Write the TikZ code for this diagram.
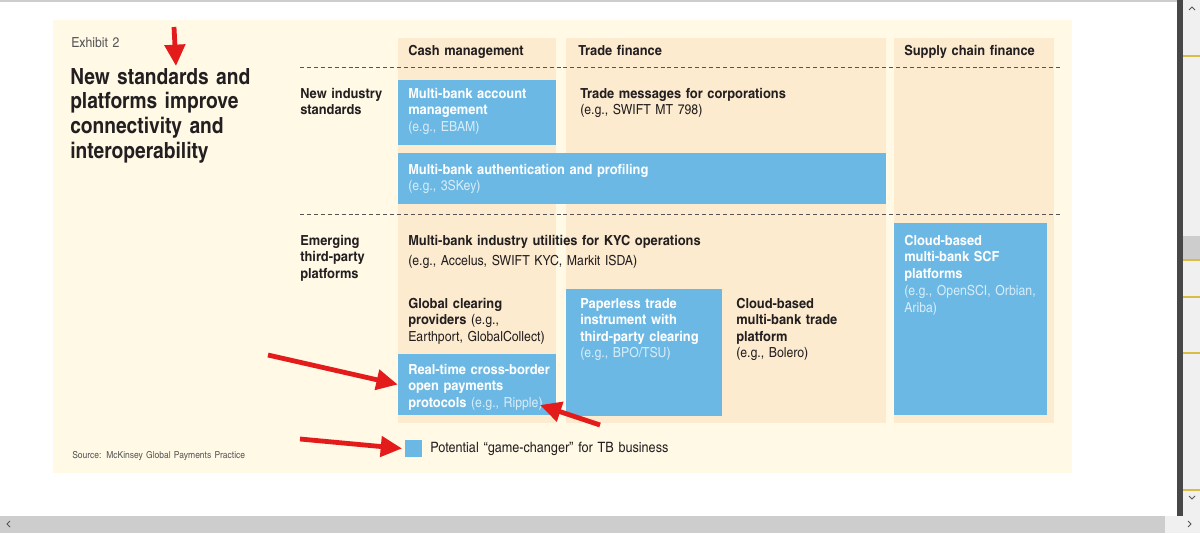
\documentclass[tikz,border=0pt]{standalone}
\usepackage{fontspec}
\setmainfont{texgyreheroscn}[Extension=.otf, UprightFont=*-regular, BoldFont=*-bold,
  ItalicFont=*-italic, BoldItalicFont=*-bolditalic,
  UprightFeatures={FakeStretch=1.08}, BoldFeatures={FakeStretch=1.13}]
\newfontfamily\titlefam{texgyreheroscn}[Extension=.otf, UprightFont=*-regular,
  BoldFont=*-bold, BoldFeatures={FakeStretch=1.05}]
\usetikzlibrary{arrows.meta, positioning, fit}
\definecolor{Cream}{HTML}{FFF9E6}
\definecolor{Peach}{HTML}{FDEBCF}
\definecolor{SkyBlue}{HTML}{6CB8E4}
\definecolor{PaleBlue}{HTML}{D6ECF8}
\definecolor{InkDark}{HTML}{231F20}
\definecolor{ExGray}{HTML}{555555}
\definecolor{MarkRed}{HTML}{E31B1B}
\definecolor{BarLight}{HTML}{F0F0F0}
\definecolor{BarGray}{HTML}{CDCDCD}
\definecolor{BarDark}{HTML}{474747}
\definecolor{BarMark}{HTML}{D9BE45}
\newcommand\boxfont{\fontsize{10.4}{12.4}\selectfont}
\newcommand\headfont{\titlefam\fontsize{16.7}{18.6}\selectfont\bfseries}

\begin{document}
\begin{tikzpicture}[x=0.75pt, y=-0.75pt,
  colbg/.style={fill=Peach, inner sep=0pt},
  gcbox/.style={fill=SkyBlue, inner sep=0pt},
  txt/.style={anchor=base west, align=left, inner sep=0pt, text width=260pt,
    font=\boxfont, text=InkDark},
  wtxt/.style={txt, text=white},
  sepline/.style={ExGray, line width=0.6pt, dash pattern=on 3pt off 2.2pt},
  markarrow/.style={MarkRed, line width=3.6pt, -{Triangle[length=16pt, width=15pt]}}]
  \useasboundingbox (0,0) rectangle (1200,533);
  \fill[white] (0,0) rectangle (1200,533);
  % Browser frame
  \fill[BarGray] (0,0) rectangle (1177,2);
  \fill[BarDark] (1177,0) rectangle (1183,516);
  \fill[BarLight] (1183,0) rectangle (1200,516);
  \fill[BarGray] (1183,236) rectangle (1200,259);
  \foreach \y in {56, 260, 297, 353, 490}{
    \fill[BarMark] (1183,\y-1) rectangle (1200,\y+1);
  }
  \fill[BarGray] (0,516) rectangle (1165,533);
  \fill[BarLight] (1165,516) rectangle (1200,533);
  \draw[ExGray, line width=0.6pt] (1189,10) -- (1192,7) -- (1195,10);
  \draw[ExGray, line width=0.6pt] (1189,496) -- (1192,499) -- (1195,496);
  \draw[ExGray, line width=0.6pt] (10,521) -- (7,524) -- (10,527);
  \draw[ExGray, line width=0.6pt] (1188,521) -- (1191,524) -- (1188,527);

  % Exhibit panel
  \node[fit={(53,20) (1072,473)}, fill=Cream, inner sep=0pt] (panel) {};
  \node[txt, font=\fontsize{10.4}{12}\selectfont, text=ExGray] (exh) at (71,47) {Exhibit 2};
  \node[txt, font=\headfont] (title) at (70,84)
    {New standards and\\platforms improve\\connectivity and\\interoperability};
  \node[txt, font=\fontsize{7.2}{8}\selectfont, text=ExGray] (src) at (72,458)
    {Source: McKinsey Global Payments Practice};

  % Column backgrounds and headers
  \foreach \xa/\xb/\nm in {398/556/cash, 566/886/trade, 894/1054/scf}{
    \node[colbg, fit={(\xa,38) (\xb,423)}] (\nm) {};
  }
  \foreach \x/\nm/\lbl in {408/hcash/Cash management, 578/htrade/Trade finance,
                           904/hscf/Supply chain finance}{
    \node[txt, font=\boxfont\bfseries] (\nm) at (\x,55) {\lbl};
  }
  % Row separators
  \foreach \y in {67, 214}{
    \draw[sepline] (300,\y) -- (1060,\y);
  }
  % Row labels
  \node[txt, font=\boxfont\bfseries] (rstd) at (300,98) {New industry\\standards};
  \node[txt, font=\boxfont\bfseries] (remg) at (300,245) {Emerging\\third-party\\platforms};

  % Game-changer boxes
  \node[gcbox, fit={(398,80) (556,145)}] (mbam) {};
  \node[gcbox, fit={(398,153) (886,204)}] (auth) {};
  \node[gcbox, fit={(398,354) (556,415)}] (rtcb) {};
  \node[gcbox, fit={(566,289) (722,416)}] (ppls) {};
  \node[gcbox, fit={(894,223) (1047,415)}] (cscf) {};

  % New industry standards
  \node[wtxt] (tmbam) at (408,98)
    {\textbf{Multi-bank account}\\\textbf{management}\\{\color{PaleBlue}(e.g., EBAM)}};
  \node[txt] (ttmc) at (580,98)
    {\textbf{Trade messages for corporations}\\(e.g., SWIFT MT 798)};
  \node[wtxt] (tauth) at (408,174)
    {\textbf{Multi-bank authentication and profiling}\\{\color{PaleBlue}(e.g., 3SKey)}};
  % Emerging third-party platforms
  \node[txt] (tkyc) at (408,245)
    {\textbf{Multi-bank industry utilities for KYC operations}\\[2.6pt](e.g., Accelus, SWIFT KYC, Markit ISDA)};
  \node[txt] (tgcp) at (408,308)
    {\textbf{Global clearing}\\\textbf{providers} (e.g.,\\Earthport, GlobalCollect)};
  \node[wtxt] (trtcb) at (408,374)
    {\textbf{Real-time cross-border}\\\textbf{open payments}\\\textbf{protocols} {\color{PaleBlue}(e.g., Ripple)}};
  \node[wtxt] (tppls) at (580,308)
    {\textbf{Paperless trade}\\\textbf{instrument with}\\\textbf{third-party clearing}\\{\color{PaleBlue}(e.g., BPO/TSU)}};
  \node[txt] (tcbtp) at (736,308)
    {\textbf{Cloud-based}\\\textbf{multi-bank trade}\\\textbf{platform}\\(e.g., Bolero)};
  \node[wtxt] (tcscf) at (904,245)
    {\textbf{Cloud-based}\\\textbf{multi-bank SCF}\\\textbf{platforms}\\[1pt]{\color{PaleBlue}(e.g., OpenSCI, Orbian,}\\{\color{PaleBlue}Ariba)}};

  % Legend
  \node[gcbox, fit={(405,440) (422,457)}] (key) {};
  \node[txt, font=\fontsize{10.7}{12}\selectfont] (keytxt) at (430,452)
    {Potential ``game-changer'' for TB business};

  % Red markers
  \coordinate (a1s) at (174,27);
  \coordinate (a1e) at (176,66);
  \coordinate (a2s) at (268,355);
  \coordinate (a3s) at (600,425);
  \coordinate (a3e) at (540,405);
  \coordinate (a4s) at (300,439);
  \draw[markarrow] (a1s) -- (a1e);
  \draw[markarrow] (a2s) -- (rtcb.west);
  \draw[markarrow] (a3s) -- (a3e);
  \draw[markarrow] (a4s) -- ([xshift=-2pt]key.west);
\end{tikzpicture}
\end{document}
